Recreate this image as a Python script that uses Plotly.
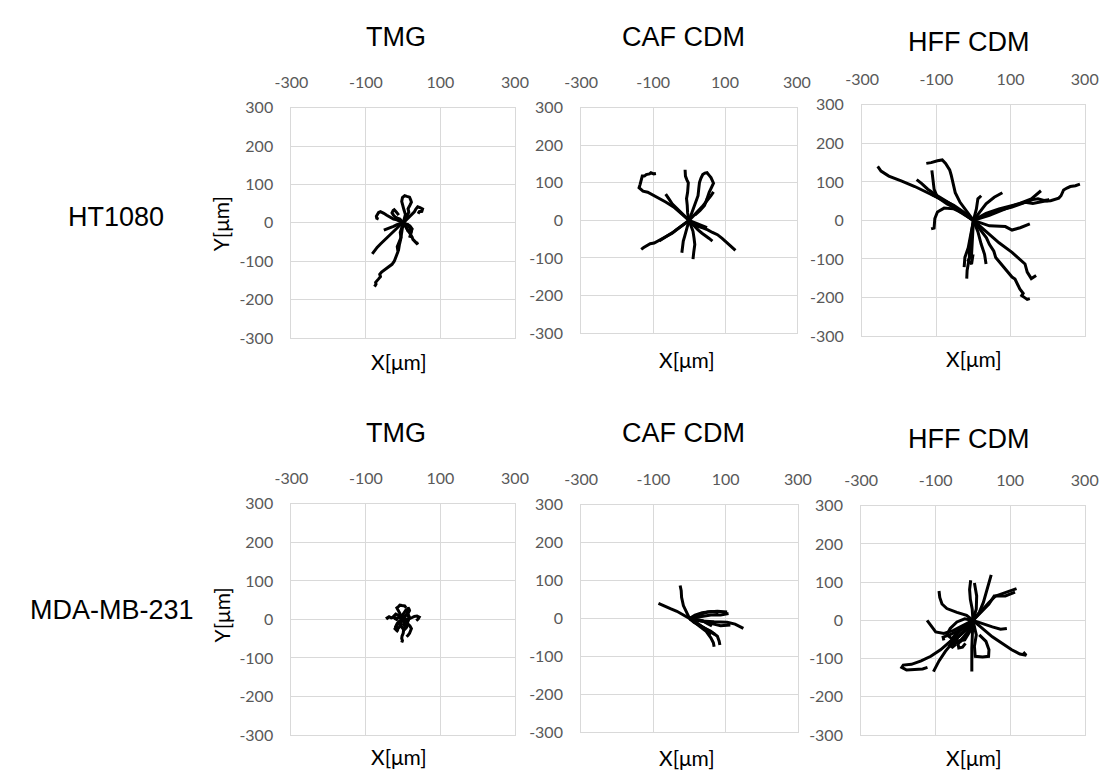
import plotly.graph_objects as go

# ---------------- data ----------------
row_labels = ["HT1080", "MDA-MB-231"]
col_titles = ["TMG", "CAF CDM", "HFF CDM"]
x_tick_vals = [-300, -100, 100, 300]
x_tick_text = ["-300", "-100", "100", "300"]
y_tick_vals = [-300, -200, -100, 0, 100, 200, 300]
y_tick_text = ["-300", "-200", "-100", "0", "100", "200", "300"]

# HT1080 / TMG tracks
ht1080_tmg_x = [
    [0, -3, -8, -6, -12, -16, -14, -19, -24, -30, -39, -47, -52, -58, -63, -61, -66, -70, -74, -73, -77],
    [0, -9, -17, -26, -35, -44, -52, -61, -70, -77, -83],
    [0, 3, 6, 2, -1, -4, -2, 4, 10, 17, 20, 22, 18, 13, 15, 9, 5],
    [0, 9, 17, 24, 30, 34, 39, 45, 52, 50, 43, 40],
    [0, -9, -17, -26, -35, -44, -52, -57, -61, -66, -70, -72, -71, -66],
    [0, 6, 13, 17, 22, 24, 26, 31, 35, 39, 36],
    [0, -9, -17, -26, -35, -44, -52],
    [0, -2, -4, -7, -10, -11, -13],
    [0, 7, 13, 18, 22, 20, 17],
    [0, -5, -9, -15, -20, -26, -30, -27, -24, -18, -12],
    [0, 8, 12, 20, 24, 18, 10],
]
ht1080_tmg_y = [
    [0, -12, -25, -38, -50, -62, -75, -88, -100, -108, -114, -120, -123, -128, -134, -140, -146, -150, -155, -160, -166],
    [0, -6, -14, -22, -31, -39, -47, -55, -64, -72, -81],
    [0, 10, 22, 34, 46, 56, 66, 71, 69, 67, 60, 54, 46, 37, 28, 16, 6],
    [0, 8, 16, 22, 29, 36, 42, 40, 36, 30, 29, 24],
    [0, 5, 8, 10, 14, 20, 25, 28, 29, 27, 22, 17, 12, 10],
    [0, -9, -18, -24, -31, -37, -43, -48, -52, -56, -50],
    [0, -2, -5, -9, -12, -15, -19],
    [0, -15, -31, -44, -56, -65, -73],
    [0, -2, -5, -13, -22, -30, -39],
    [0, 5, 10, 12, 14, 20, 26, 32, 34, 28, 20],
    [0, -10, -20, -26, -16, -8, -4],
]

# HT1080 / CAF CDM tracks
ht1080_caf_x = [
    [0, -20, -43, -65, -92, -115, -128, -133, -139, -136, -133, -130, -124, -119, -110, -106, -98, -92],
    [0, -13, -25, -36, -47, -55, -61, -65],
    [0, -4, -5, -7, -4, -2, -6, -10, -11],
    [0, 11, 18, 25, 27, 29, 33, 38, 44, 50, 56, 61, 68, 63, 56, 50, 43, 30, 16],
    [0, 12, 25, 36, 47, 55, 61, 68],
    [0, -12, -25, -36, -47, -58, -70, -84, -97, -108, -120, -126, -133],
    [0, -15, -29, -42, -56, -70, -83],
    [0, -5, -9, -12, -16, -18, -20],
    [0, 6, 11, 14, 16, 13, 11],
    [0, 12, 25, 38, 52, 65, 79, 92, 106, 118, 129],
    [0, 12, 25, 36, 47, 56, 65],
    [0, 12, 25, 38, 50],
]
ht1080_caf_y = [
    [0, 18, 36, 49, 62, 75, 78, 81, 87, 96, 105, 118, 118, 122, 124, 127, 124, 125],
    [0, 12, 23, 33, 44, 56, 66, 70],
    [0, 20, 40, 58, 75, 100, 108, 118, 135],
    [0, 31, 48, 66, 84, 101, 112, 122, 126, 127, 120, 114, 99, 90, 75, 58, 40, 26, 14],
    [0, 12, 23, 36, 49, 58, 66, 76],
    [0, -8, -16, -25, -34, -40, -47, -55, -60, -62, -68, -72, -77],
    [0, -11, -21, -30, -38, -48, -55],
    [0, -15, -29, -42, -55, -70, -86],
    [0, -15, -29, -48, -64, -85, -103],
    [0, -8, -16, -20, -25, -32, -38, -48, -60, -70, -80],
    [0, -13, -25, -34, -43, -48, -55],
    [0, -5, -10, -15, -19],
]

# HT1080 / HFF CDM tracks
ht1080_hff_x = [
    [0, -27, -53, -88, -123, -158, -193, -228, -249, -258],
    [0, -31, -62, -97, -123, -140, -153],
    [0, -36, -71, -97, -114],
    [0, -18, -36, -49, -55, -60, -64, -75, -84, -97, -114, -127],
    [0, -36, -71, -97, -106, -110, -112],
    [0, -27, -53, -79, -97, -104, -106, -114],
    [0, 17, 34, 56, 78],
    [0, 8, 12, 21],
    [0, 34, 69, 104, 120, 139, 160, 174, 190, 208, 220, 230, 236, 243, 252, 261, 275, 287],
    [0, 43, 86, 121, 156, 182],
    [0, 51, 104, 130, 147, 160, 174, 190, 204, 196],
    [0, 43, 86, 104, 126, 152],
    [0, 21, 35, 43, 55, 60, 72, 86, 95, 104, 112, 121, 125, 134, 130, 139, 145, 152],
    [0, 34, 69, 104, 139, 145, 156, 169],
    [0, 12, 21, 30, 34],
    [0, -5, -10, -11, -17, -18],
    [0, -8, -14, -23, -25],
    [0, -3, -5, -14, -5, -1],
]
ht1080_hff_y = [
    [0, 22, 39, 56, 72, 88, 102, 115, 128, 140],
    [0, 22, 43, 64, 81, 96, 106],
    [0, 22, 47, 60, 68],
    [0, 22, 47, 72, 102, 118, 131, 148, 157, 155, 150, 148],
    [0, 26, 43, 60, 81, 106, 130],
    [0, 18, 30, 32, 22, 5, -20, -22],
    [0, 22, 43, 60, 72],
    [0, 30, 56, 64],
    [0, 18, 30, 39, 44, 47, 44, 47, 50, 51, 55, 58, 64, 79, 84, 88, 90, 94],
    [0, 13, 30, 43, 56, 77],
    [0, 22, 35, 44, 51, 54, 56, 52, 54, 50],
    [0, -14, -16, -25, -19, -9],
    [0, -29, -45, -62, -80, -96, -110, -125, -135, -147, -152, -168, -178, -189, -195, -201, -205, -203],
    [0, -29, -58, -83, -113, -134, -151, -143],
    [0, -29, -62, -88, -113],
    [0, -29, -62, -96, -130, -151],
    [0, -37, -71, -96, -121],
    [0, -46, -88, -104, -113, -88],
]

# MDA-MB-231 / TMG tracks
mda_tmg_x = [
    [0, -6, -12, -18, -25, -32, -38, -43, -40],
    [0, -4, -9, -13, -17, -12, -9, -3, 4, 8],
    [0, 5, 9, 11, 13, 16, 17, 13, 9],
    [0, 9, 17, 24, 30, 37, 43, 40, 35],
    [0, 2, 4, 1, 0, -3, -4, -2, -4],
    [0, 7, 13, 18, 22, 20, 17, 13, 9],
    [0, -7, -13, -18, -22, -17, -13],
    [0, -4, 0, 4, 9, 13, 17, 12, 4],
    [0, -8, -6, -4, 2, 8, 12, 7, 2],
    [0, -10, -16, -20, -14, -8, -2],
    [0, 6, 12, 16, 10, 4],
    [0, -12, -20, -26, -22, -14],
]
mda_tmg_y = [
    [0, 2, 5, 3, 6, 4, 7, 4, 0],
    [0, 8, 15, 22, 30, 34, 37, 36, 35, 30],
    [0, 8, 15, 23, 31, 26, 23, 16, 10],
    [0, 1, 2, 5, 8, 9, 6, 1, -3],
    [0, -9, -19, -27, -36, -43, -49, -55, -60],
    [0, -6, -11, -17, -24, -30, -36, -41, -45],
    [0, -5, -11, -17, -24, -29, -32],
    [0, 7, 14, 20, 27, 14, 5, -7, -15],
    [0, -10, -15, -20, -28, -22, -15, -9, -5],
    [0, -4, -10, -18, -24, -18, -10],
    [0, 10, 12, 4, -4, -2],
    [0, 10, 14, 8, 2, -2],
]

# MDA-MB-231 / CAF CDM tracks
mda_caf_x = [
    [0, -17, -35, -53, -71, -86],
    [0, -8, -17, -22, -23, -26],
    [0, 32, 68, 104, 126, 149],
    [0, 23, 50, 77, 104],
    [0, 28, 59, 86, 108],
    [0, 23, 46, 59, 66, 68],
    [0, 32, 59, 77, 82, 84],
    [0, 23, 41, 59],
    [0, 23, 59, 86, 113],
    [0, 15, 35, 60, 80],
    [0, 12, 28, 44, 58, 70],
    [0, 18, 36, 50, 62],
]
mda_caf_y = [
    [0, 9, 19, 26, 34, 40],
    [0, 17, 34, 56, 73, 87],
    [0, -7, -9, -10, -15, -26],
    [0, 9, 17, 19, 17],
    [0, 4, 9, 9, 13],
    [0, -17, -34, -51, -64, -75],
    [0, -21, -34, -47, -60, -70],
    [0, -13, -26, -43],
    [0, -4, -13, -19, -17],
    [0, 9, 15, 18, 15],
    [0, -10, -18, -28, -36, -42],
    [0, -3, -6, -14, -20],
]

# MDA-MB-231 / HFF CDM tracks
mda_hff_x = [
    [0, -17, -35, -61, -87, -113, -139, -165, -187, -191, -178, -157, -135, -122],
    [0, -26, -52, -74, -91, -106],
    [0, -2, -3, -3, -3],
    [0, 26, 52, 78, 104, 126, 143, 135],
    [0, 26, 52, 74, 91],
    [0, 9, 4, 6, 26, 42, 43, 35, 17],
    [0, -2, -7, -9, -6],
    [0, 9, 10, 7, 4],
    [0, 17, 28, 35, 42, 49],
    [0, 26, 43, 61, 87, 113, 117],
    [0, 22, 43, 57, 87, 113],
    [0, -17, -43, -70, -83, -89, -91],
    [0, -26, -52, -78, -100, -113, -123],
    [0, -17, -35, -52, -43, -22, -9, -4],
    [0, -22, -43, -61, -70, -52, -30],
    [0, -10, -22, -35, -48, -56, -62, -55, -45],
    [0, -8, -18, -30, -40, -38, -28, -20],
    [0, -15, -30, -45, -58, -70, -80, -78],
    [0, -12, -22, -35, -48, -60, -55, -40, -25],
]
mda_hff_y = [
    [0, -21, -38, -55, -77, -94, -106, -115, -117, -123, -130, -128, -127, -123],
    [0, -30, -55, -81, -106, -134],
    [0, -38, -72, -106, -134],
    [0, -21, -43, -60, -77, -88, -91, -83],
    [0, -9, -17, -23, -21],
    [0, -38, -68, -94, -96, -94, -77, -55, -38],
    [0, 30, 55, 81, 105],
    [0, 30, 64, 85, 98],
    [0, 21, 47, 72, 98, 119],
    [0, 30, 47, 64, 72, 81, 83],
    [0, 21, 43, 64, 64, 74],
    [0, 13, 21, 31, 43, 60, 77],
    [0, -13, -26, -34, -30, -13, 0],
    [0, -13, -26, -43, -55, -51, -30, -13],
    [0, 4, -4, -21, -38, -51, -55],
    [0, -15, -28, -40, -50, -58, -66, -70, -62],
    [0, -20, -35, -50, -62, -72, -70, -60],
    [0, -10, -20, -30, -36, -40, -44, -52],
    [0, -8, -18, -26, -40, -55, -62, -58, -45],
]

panels_x = [ht1080_tmg_x, ht1080_caf_x, ht1080_hff_x, mda_tmg_x, mda_caf_x, mda_hff_x]
panels_y = [ht1080_tmg_y, ht1080_caf_y, ht1080_hff_y, mda_tmg_y, mda_caf_y, mda_hff_y]

# ---------------- layout geometry (screen pixels) ----------------
W, H = 1117, 777
OFF = 8  # page body margin offsets the figure on screen
boxes = [  # left, right, top, bottom (screen px)
    (282, 512, 100, 336),
    (580, 802, 100, 331),
    (869, 1098, 97, 334),
    (282, 512, 506, 743),
    (580, 803, 507, 740),
    (868, 1098, 508, 743),
]

def fx(px):
    return (px - OFF) / W

def fy(py):
    return 1 - (py - OFF) / H

TICK_FONT = dict(family="Lato, Carlito, sans-serif", size=16, color="#595959")
AX_TITLE_FONT = dict(family="Lato, Carlito, sans-serif", size=21, color="#000000")
BIG_FONT = dict(family="Liberation Sans, Arial, sans-serif", size=27, color="#000000")
GRID = "#d9d9d9"

fig = go.Figure()
layout = dict(
    width=W, height=H, margin=dict(l=0, r=0, t=0, b=0),
    paper_bgcolor="white", plot_bgcolor="white", showlegend=False,
)

for i, (px, py) in enumerate(zip(panels_x, panels_y)):
    xs, ys = [], []
    for tx, ty in zip(px, py):
        xs += tx + [None]
        ys += ty + [None]
    n = "" if i == 0 else str(i + 1)
    fig.add_trace(go.Scatter(
        x=xs, y=ys, mode="lines", xaxis="x" + n, yaxis="y" + n,
        line=dict(color="black", width=3), connectgaps=False, hoverinfo="skip",
    ))
    l, r, t, b = boxes[i]
    layout["xaxis" + n] = dict(
        domain=[fx(l), fx(r)], range=[-300, 300], side="top", anchor="y" + n,
        tickvals=x_tick_vals, ticktext=x_tick_text, tickfont=TICK_FONT,
        showgrid=True, gridcolor=GRID, gridwidth=1, zeroline=False,
        showline=True, linecolor=GRID, linewidth=1, mirror=True,
        ticks="", ticklabelstandoff=12, fixedrange=True,
    )
    layout["yaxis" + n] = dict(
        domain=[fy(b), fy(t)], range=[-300, 300], anchor="x" + n,
        tickvals=y_tick_vals, ticktext=y_tick_text, tickfont=TICK_FONT,
        showgrid=True, gridcolor=GRID, gridwidth=1, zeroline=False,
        showline=True, linecolor=GRID, linewidth=1, mirror=True,
        ticks="", ticklabelstandoff=14, fixedrange=True,
    )

annotations = []
def ann(text, x, y, font, angle=0):
    annotations.append(dict(
        text=text, x=fx(x), y=fy(y), xref="paper", yref="paper",
        showarrow=False, font=font, textangle=angle,
        xanchor="center", yanchor="middle",
    ))

# column titles
title_pos = [(390, 27), (685, 27), (978, 33), (390, 433), (685, 433), (978, 440)]
for i, (x, y) in enumerate(title_pos):
    ann(col_titles[i % 3], x, y, BIG_FONT)
# x-axis titles
xt_pos = [(393, 360), (689, 358), (984, 357), (393, 765), (689, 766), (984, 766)]
for x, y in xt_pos:
    ann("X[μm]", x, y, AX_TITLE_FONT)
# y-axis titles
ann("Y[μm]", 209, 219, AX_TITLE_FONT, -90)
ann("Y[μm]", 210, 620, AX_TITLE_FONT, -90)
# row labels
ann(row_labels[0], 102, 212, BIG_FONT)
ann(row_labels[1], 97, 615, BIG_FONT)

layout["annotations"] = annotations
fig.update_layout(**layout)
fig.write_html("out.html")
